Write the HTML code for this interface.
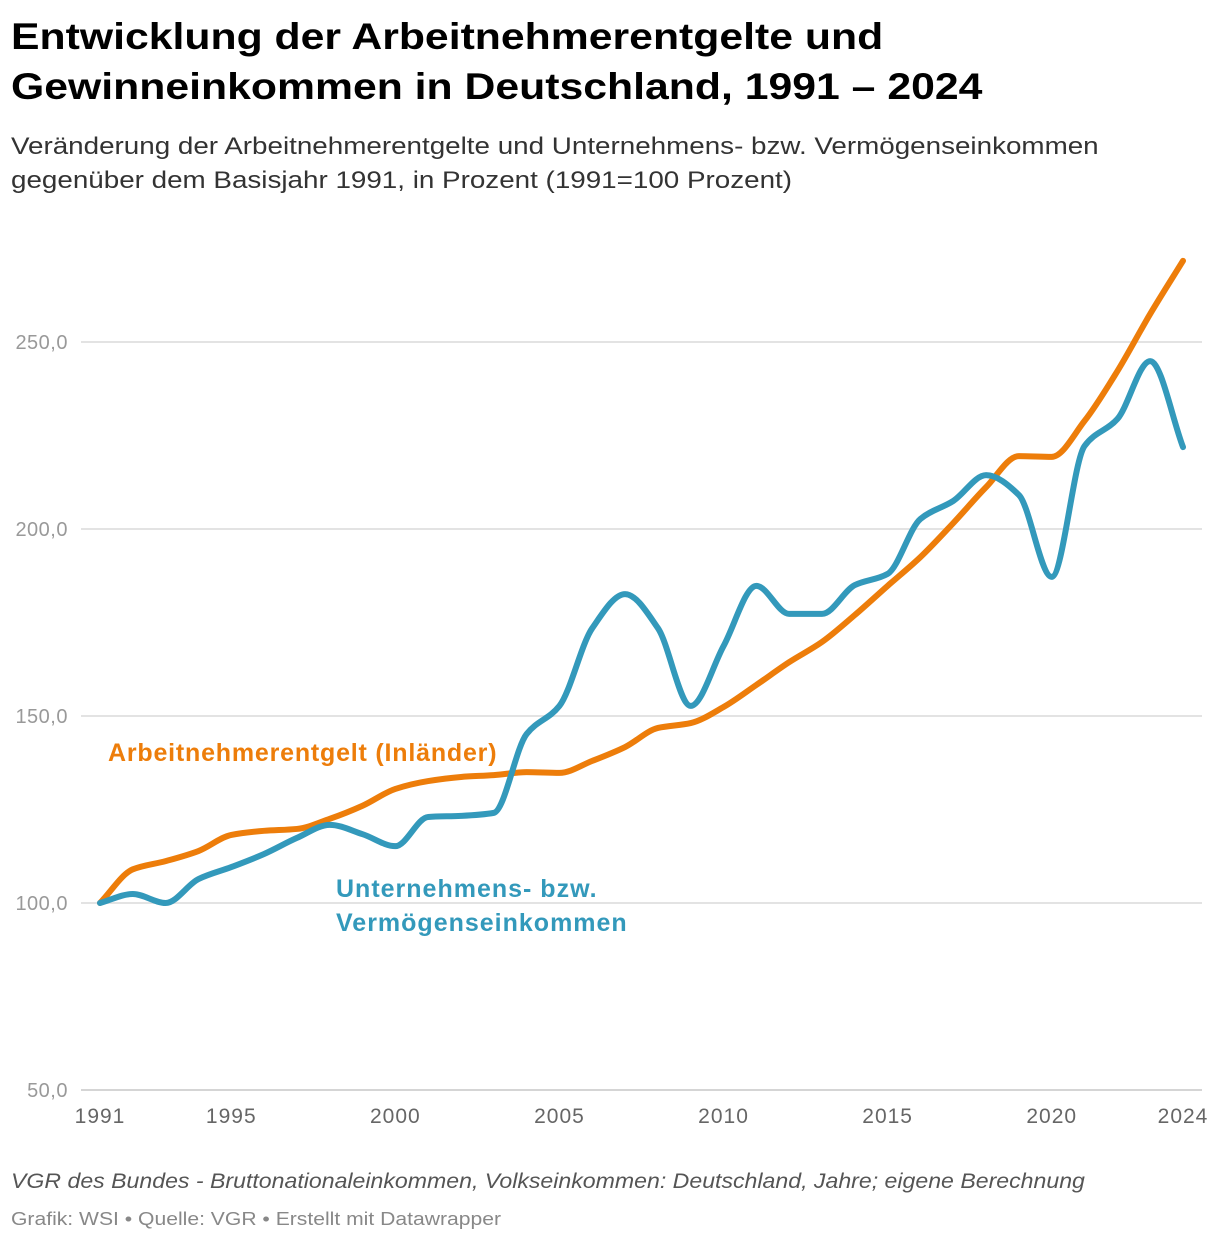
<!DOCTYPE html>
<html><head><meta charset="utf-8"><style>
body{margin:0;background:#fff;font-family:"Liberation Sans",sans-serif;}
#wrap{position:relative;width:1220px;height:1244px;overflow:hidden;}
.t{position:absolute;left:11px;margin:0;transform-origin:0 0;white-space:nowrap;}
</style></head><body>
<div id="wrap">
<h1 class="t" style="top:12px;font-size:37px;line-height:50px;font-weight:bold;color:#000;transform:scaleX(1.155)">Entwicklung der Arbeitnehmerentgelte und<br>Gewinneinkommen in Deutschland, 1991 – 2024</h1>
<div class="t" style="top:130px;font-size:24px;line-height:34px;color:#333;transform:scaleX(1.158)">Veränderung der Arbeitnehmerentgelte und Unternehmens- bzw. Vermögenseinkommen<br>gegenüber dem Basisjahr 1991, in Prozent (1991=100 Prozent)</div>
<svg id="chart" width="1220" height="1244" style="position:absolute;left:0;top:0"></svg>
<div class="t" style="top:1170px;font-size:21px;font-style:italic;color:#555;transform:scaleX(1.1)">VGR des Bundes - Bruttonationaleinkommen, Volkseinkommen: Deutschland, Jahre; eigene Berechnung</div>
<div class="t" style="top:1209px;font-size:18px;color:#888;transform:scaleX(1.173)">Grafik: WSI • Quelle: VGR • Erstellt mit Datawrapper</div>
</div>
<script>
const years=[1991,1992,1993,1994,1995,1996,1997,1998,1999,2000,2001,2002,2003,2004,2005,2006,2007,2008,2009,2010,2011,2012,2013,2014,2015,2016,2017,2018,2019,2020,2021,2022,2023,2024];
const arbeitnehmer=[100,109,111.2,113.9,118.2,119.3,119.8,122.5,126,130.5,132.6,133.7,134.2,135,134.8,138,141.7,146.8,148.1,152.4,158.3,164.4,169.8,177,184.8,192.5,201.6,211.2,219.5,219.3,228.9,242.2,257.5,271.7];
const unternehmen=[100,102.4,100,106.4,109.6,113.1,117.4,120.9,118.4,115.2,123,123.3,124.1,145.2,152.7,173.5,182.6,173.5,152.7,168.7,184.8,177.3,177.3,185,188,202.7,207.5,214.4,209.1,187.2,222.2,229.4,244.9,221.9];
const yTicks=[50,100,150,200,250];
const xTicks=[1991,1995,2000,2005,2010,2015,2020,2024];
const NS='http://www.w3.org/2000/svg';
const svg=document.getElementById('chart');
const x=v=>100+(v-1991)*(1083/33);
const y=v=>1090-(v-50)*3.74;
function mk(tag,attrs){const e=document.createElementNS(NS,tag);for(const k in attrs)e.setAttribute(k,attrs[k]);svg.appendChild(e);return e;}
yTicks.forEach(t=>{
  const l=mk('line',{x1:81,x2:1202,y1:y(t),y2:y(t),stroke:t===50?'#d5d5d5':'#e3e3e3','stroke-width':2});
  
  
  const tx=mk('text',{x:68,y:y(t)+7,'text-anchor':'end','font-size':20,'letter-spacing':0.5,fill:'#999','font-family':'Liberation Sans, sans-serif'});
  tx.textContent=t.toFixed(1).replace('.',',');
  
  
});
xTicks.forEach(t=>{
  const tx=mk('text',{x:x(t),y:1123,'text-anchor':'middle','font-size':21,'letter-spacing':1,fill:'#666','font-family':'Liberation Sans, sans-serif'});
  tx.textContent=t;
  
  
});
function monoPath(xs,ys){
  const n=xs.length,d=[],m=[];
  for(let i=0;i<n-1;i++)d.push((ys[i+1]-ys[i])/(xs[i+1]-xs[i]));
  m[0]=d[0];m[n-1]=d[n-2];
  for(let i=1;i<n-1;i++){if(d[i-1]*d[i]<=0)m[i]=0;else{const h0=xs[i]-xs[i-1],h1=xs[i+1]-xs[i];m[i]=3*(h0+h1)/((2*h1+h0)/d[i-1]+(h1+2*h0)/d[i]);}}
  let p='M'+xs[0]+','+ys[0];
  for(let i=0;i<n-1;i++){const h=(xs[i+1]-xs[i])/3;p+=' C'+(xs[i]+h)+','+(ys[i]+m[i]*h)+' '+(xs[i+1]-h)+','+(ys[i+1]-m[i+1]*h)+' '+xs[i+1]+','+ys[i+1];}
  return p;
}
const xs=years.map(x);
const p1=mk('path',{d:monoPath(xs,arbeitnehmer.map(y)),fill:'none',stroke:'#ed7d0a','stroke-width':6,'stroke-linecap':'round','stroke-linejoin':'round'});


const p2=mk('path',{d:monoPath(xs,unternehmen.map(y)),fill:'none',stroke:'#3399bb','stroke-width':6,'stroke-linecap':'round','stroke-linejoin':'round'});


const l1=mk('text',{x:108,y:761,'font-size':25,'letter-spacing':0.8,'font-weight':'bold',fill:'#ed7d0a','font-family':'Liberation Sans, sans-serif'});
l1.textContent='Arbeitnehmerentgelt (Inländer)';


const l2=mk('text',{x:336,y:897,'font-size':25,'letter-spacing':1,'font-weight':'bold',fill:'#3399bb','font-family':'Liberation Sans, sans-serif'});
l2.textContent='Unternehmens- bzw.';


const l3=mk('text',{x:336,y:931,'font-size':25,'letter-spacing':1,'font-weight':'bold',fill:'#3399bb','font-family':'Liberation Sans, sans-serif'});
l3.textContent='Vermögenseinkommen';


</script>
</body></html>
